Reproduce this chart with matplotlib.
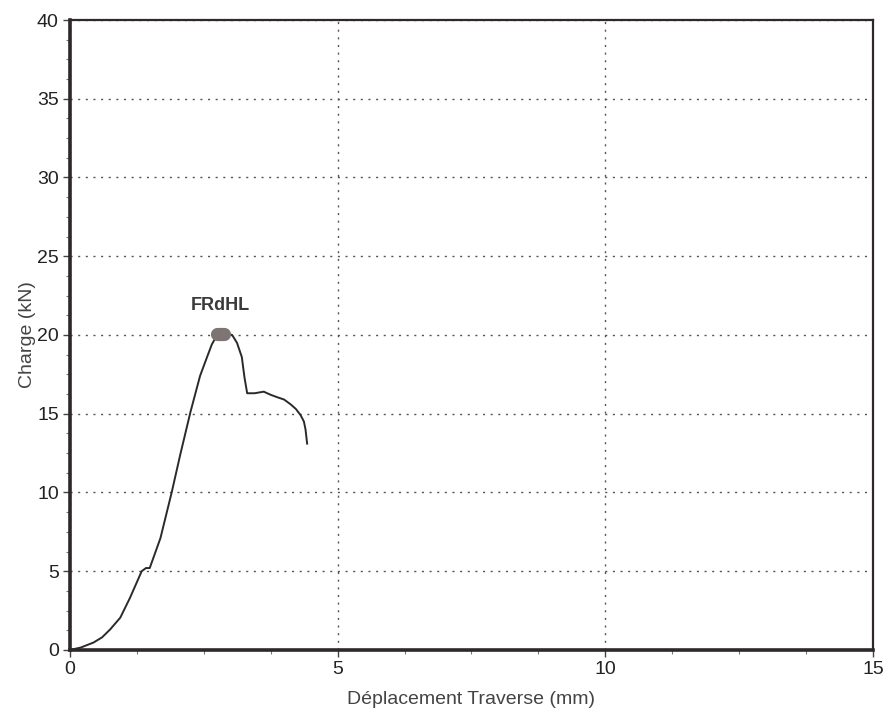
import matplotlib.pyplot as plt
from matplotlib.ticker import MultipleLocator

plt.rcParams['font.family'] = ['Liberation Sans', 'DejaVu Sans']

# load-displacement trace (mm, kN)
deplacement = [0.0, 0.20, 0.44, 0.60, 0.75, 0.94, 1.12, 1.34, 1.42, 1.49,
               1.69, 1.90, 2.06, 2.25, 2.43, 2.55, 2.65, 2.75, 2.90, 3.03,
               3.12, 3.21, 3.26, 3.31, 3.45, 3.62, 3.75, 3.87, 4.00, 4.12,
               4.22, 4.31, 4.37, 4.40, 4.43]
charge = [0.0, 0.15, 0.47, 0.8, 1.3, 2.05, 3.3, 5.0, 5.2, 5.2,
          7.1, 10.0, 12.4, 15.1, 17.4, 18.5, 19.4, 20.0, 20.1, 20.0,
          19.5, 18.6, 17.3, 16.3, 16.3, 16.4, 16.2, 16.05, 15.9, 15.6,
          15.3, 14.9, 14.5, 14.0, 13.1]

pic_x = 2.81
pic_y = 20.05
pic_label = "FRdHL"

fig = plt.figure(figsize=(8.89, 7.15), dpi=100)
ax = fig.add_axes([0.0787, 0.091, 0.9033, 0.881])

ax.plot(deplacement, charge, color='#2a2a2a', lw=1.4)
# flattened blob marking the peak load
ax.plot([pic_x - 0.07, pic_x + 0.07], [pic_y, pic_y], color='#7d7474',
        lw=9.5, solid_capstyle='round', zorder=3)
ax.text(pic_x, pic_y + 1.8, pic_label, ha='center', va='center',
        fontsize=13, fontweight='bold', color='#3a3a3a')

ax.set_xlim(0, 15)
ax.set_ylim(0, 40)
ax.xaxis.set_major_locator(MultipleLocator(5))
ax.xaxis.set_minor_locator(MultipleLocator(1.25))
ax.yaxis.set_major_locator(MultipleLocator(5))
ax.yaxis.set_minor_locator(MultipleLocator(1.25))

ax.grid(True, which='major', color='#555555', linestyle=(0, (1.5, 4)),
        linewidth=1.0)
ax.tick_params(which='major', length=5, width=1, color='#444444',
               labelsize=14, labelcolor='#222222', pad=3)
ax.tick_params(which='minor', length=3, width=0.8, color='#777777')

for side in ('left', 'bottom'):
    ax.spines[side].set_linewidth(2.6)
    ax.spines[side].set_color('#2e2828')
for side in ('top', 'right'):
    ax.spines[side].set_linewidth(1.6)
    ax.spines[side].set_color('#2e2828')

ax.set_xlabel("Déplacement Traverse (mm)", fontsize=14, color='#444444',
              labelpad=9)
ax.set_ylabel("Charge (kN)", fontsize=14, color='#444444', labelpad=1)

fig.savefig('out.png', dpi=100)
